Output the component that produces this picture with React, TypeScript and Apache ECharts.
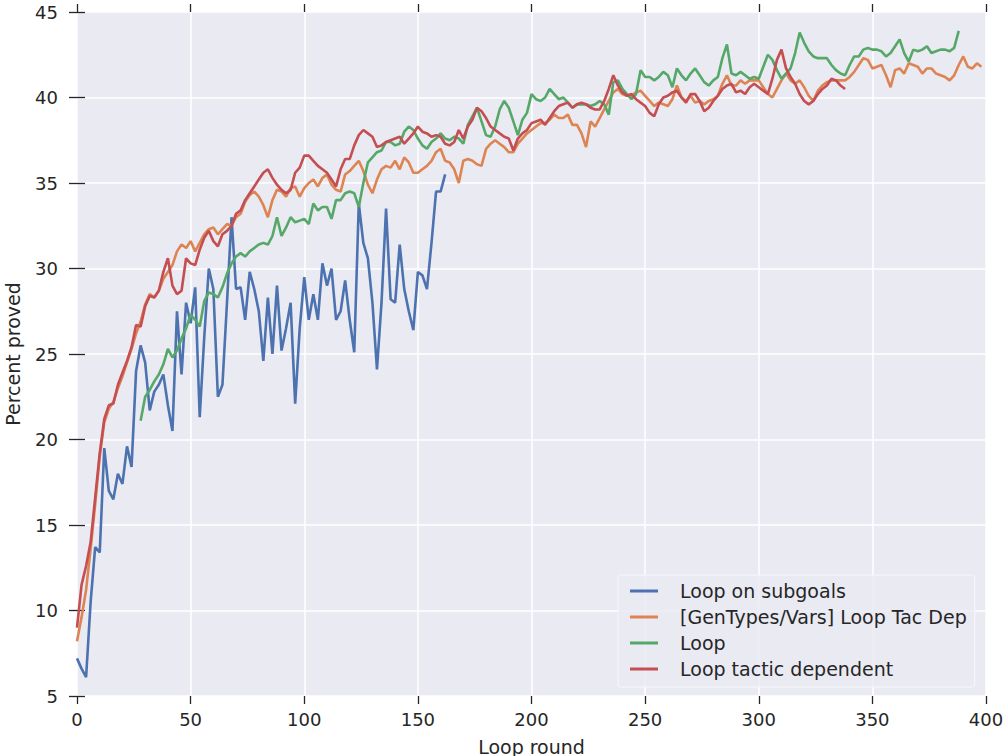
import React, { useEffect, useRef } from "react";
import * as echarts from "echarts";

const STEP = 2;
const xTicks = { min: 0, max: 400, interval: 50 };
const yTicks = { min: 5, max: 45, interval: 5 };

const seriesNames = [
  "Loop on subgoals",
  "[GenTypes/Vars] Loop Tac Dep",
  "Loop",
  "Loop tactic dependent",
];
const seriesColors = ["#4C72B0", "#DD8452", "#55A868", "#C44E52"];

const blueStart = 0;
const blueValues = [
  7.2, 6.6, 6.1, 10.5, 13.7, 13.4, 19.5, 17.0, 16.5, 18.0,
  17.4, 19.6, 18.4, 24.0, 25.5, 24.5, 21.7, 22.8, 23.2, 23.8,
  22.0, 20.5, 27.5, 23.8, 28.0, 26.8, 28.9, 21.3, 26.0, 30.0,
  28.8, 22.5, 23.2, 28.0, 33.0, 28.8, 28.9, 27.0, 29.8, 28.8,
  27.5, 24.6, 28.3, 25.0, 29.0, 25.2, 26.5, 28.0, 22.1, 26.5,
  29.5, 27.0, 28.5, 27.0, 30.3, 29.0, 30.0, 27.0, 27.5, 29.3,
  27.0, 25.1, 33.8, 31.5, 30.6, 28.0, 24.1, 28.0, 33.5, 28.2,
  28.0, 31.4, 28.8, 27.5, 26.4, 29.8, 29.6, 28.8, 31.5, 34.5,
  34.5, 35.5,
];

const orangeStart = 0;
const orangeValues = [
  8.2, 9.6, 11.2, 13.6, 16.2, 19.0, 21.0, 21.8, 22.2, 23.0,
  23.7, 24.5, 25.3, 26.2, 26.9, 27.9, 28.5, 28.3, 28.7, 29.4,
  29.8, 30.2, 31.0, 31.4, 31.2, 31.6, 31.0, 31.5, 32.0, 32.3,
  32.4, 32.0, 32.3, 32.6, 32.5, 33.0, 33.2, 33.9, 34.3, 34.5,
  34.2, 33.7, 33.0, 34.0, 34.6, 34.5, 34.2, 34.7, 34.8, 34.2,
  34.7, 35.0, 35.2, 34.8, 35.3, 35.5, 34.9, 34.6, 34.5, 35.5,
  35.7, 36.0, 36.3, 35.7, 34.9, 34.4, 35.2, 35.8, 36.0, 35.9,
  36.3, 35.8, 36.5, 36.2, 35.6, 35.6, 35.8, 36.0, 36.3, 36.8,
  37.0, 36.3, 36.2, 35.8, 35.0, 36.3, 36.4, 36.3, 36.1, 36.0,
  37.0, 37.3, 37.5, 37.3, 37.1, 36.8, 36.8, 37.3, 37.6, 37.9,
  38.1, 38.3, 38.5, 38.5, 38.7, 39.0, 38.8, 38.8, 39.0, 38.4,
  38.4, 37.9, 37.1, 38.6, 38.3, 38.8, 39.3, 39.8, 40.3, 40.5,
  40.2, 40.1, 40.1, 40.3, 40.4, 40.1, 39.8, 39.5, 39.7, 39.6,
  39.5, 39.9, 40.7, 40.0, 39.8, 40.1, 39.7, 39.8, 39.6, 39.8,
  39.9, 40.1, 40.8, 41.3, 40.7, 40.7, 41.0, 40.8, 41.0, 41.0,
  41.0, 40.6, 40.2, 40.0, 40.5, 41.0, 41.4, 41.0, 40.8, 41.0,
  40.6, 40.1, 39.8, 40.4, 40.7, 40.9, 41.0, 41.0, 41.0, 41.0,
  41.2, 41.5, 41.9, 42.3, 42.2, 41.7, 41.8, 41.9, 41.3, 40.6,
  41.6, 41.7, 41.4, 42.0, 41.9, 41.8, 41.4, 41.7, 41.7, 41.4,
  41.3, 41.2, 41.0, 41.3, 41.9, 42.4, 41.8, 41.7, 42.0, 41.8,
];

const greenStart = 28;
const greenValues = [
  21.1, 22.5, 22.9, 23.4, 23.8, 24.4, 25.3, 24.8, 25.2, 25.9,
  26.5, 27.3, 27.0, 26.6, 28.1, 28.6, 28.5, 28.3, 28.9, 29.7,
  30.3, 30.7, 30.9, 30.7, 31.0, 31.2, 31.4, 31.5, 31.4, 31.9,
  33.0, 31.9, 32.4, 33.0, 32.7, 32.8, 32.9, 32.6, 33.8, 33.4,
  33.6, 33.6, 32.9, 34.0, 34.0, 34.4, 34.5, 34.4, 33.6, 35.0,
  36.2, 36.5, 36.8, 36.9, 37.4, 37.4, 37.2, 37.3, 38.0, 38.3,
  38.1, 37.6, 37.2, 37.0, 37.4, 37.6, 37.9, 37.6, 37.5, 37.7,
  37.6, 37.3, 38.4, 38.9, 39.4, 38.6, 37.8, 37.7, 38.3, 39.3,
  39.8, 39.4, 38.6, 37.8, 38.7, 39.1, 40.2, 39.9, 39.8, 40.0,
  40.5, 40.2, 39.9, 40.0, 39.7, 39.4, 39.6, 39.6, 39.6, 39.5,
  39.6, 39.8, 39.6, 39.0, 40.9, 41.0, 40.5, 40.2, 39.9, 40.2,
  41.6, 41.2, 41.2, 41.0, 41.2, 41.5, 41.3, 40.6, 41.7, 41.3,
  41.0, 41.4, 41.7, 41.3, 40.9, 40.7, 41.0, 41.2, 42.3, 43.1,
  41.4, 41.3, 41.5, 41.3, 41.1, 41.2, 41.1, 41.8, 42.5, 42.2,
  41.6, 41.1, 41.4, 41.7, 42.6, 43.8, 43.2, 42.7, 42.4, 42.3,
  42.3, 42.3, 41.9, 41.6, 41.4, 41.3, 41.9, 42.4, 42.4, 42.8,
  42.9, 42.8, 42.8, 42.7, 42.4, 42.6, 43.0, 43.4, 42.6, 42.1,
  42.8, 42.7, 42.8, 43.0, 42.6, 42.7, 42.8, 42.8, 42.7, 42.9,
  43.9,
];

const redStart = 0;
const redValues = [
  9.0, 11.5, 12.6, 14.0, 16.6, 19.2, 21.2, 22.0, 22.1, 23.2,
  23.9, 24.6, 25.4, 26.7, 26.6, 27.8, 28.4, 28.3, 28.7, 29.8,
  30.6, 29.0, 28.5, 28.7, 30.6, 30.3, 30.2, 31.1, 31.8, 32.2,
  31.6, 31.3, 32.0, 32.2, 32.5, 33.2, 33.4, 34.0, 34.4, 34.8,
  35.2, 35.6, 35.8, 35.3, 34.9, 34.6, 34.4, 34.6, 35.6, 35.9,
  36.6, 36.6, 36.3, 36.0, 35.8, 35.6, 35.2, 34.8, 35.8, 36.4,
  36.4, 37.2, 37.8, 38.1, 37.9, 37.7, 37.1, 37.2, 37.4, 37.5,
  37.6, 37.7, 37.3, 37.6, 37.9, 38.3, 38.0, 37.9, 37.7, 37.8,
  37.7, 37.3, 37.2, 37.4, 38.1, 37.6, 38.3, 38.7, 39.4, 39.2,
  38.8, 38.3, 38.1, 37.9, 37.7, 37.6, 36.9, 37.6, 37.9, 38.1,
  38.5, 38.6, 38.7, 38.4, 38.8, 39.2, 39.5, 39.6, 39.7, 39.4,
  39.6, 39.7, 39.6, 39.4, 39.3, 39.3, 39.8, 40.5, 41.3, 40.7,
  40.3, 40.1, 40.2, 39.9, 39.7, 39.5, 39.1, 38.9, 39.6, 40.0,
  40.1, 40.3, 40.4, 40.0, 39.7, 40.2, 40.2, 39.8, 39.2, 39.4,
  39.8, 40.1, 40.5, 40.7, 40.8, 40.3, 40.4, 40.2, 40.6, 40.8,
  40.6, 40.4, 40.2, 41.1, 42.2, 42.8, 41.7, 41.2, 40.8, 40.2,
  39.8, 39.6, 39.8, 40.2, 40.5, 40.7, 41.1, 41.0, 40.7, 40.5,
];

const FONT = "DejaVu Sans";
const TEXT = "#262626";

function toPoints(start: number, values: number[]) {
  return values.map((v, i) => [start + i * STEP, v]);
}

export default function App() {
  const ref = useRef<HTMLDivElement>(null);
  useEffect(() => {
    if (!ref.current) return;
    const chart = echarts.init(ref.current, undefined, { renderer: "svg" });
    const tick = { show: true, length: 8, lineStyle: { color: TEXT, width: 1.3 } };
    const data = [
      toPoints(blueStart, blueValues),
      toPoints(orangeStart, orangeValues),
      toPoints(greenStart, greenValues),
      toPoints(redStart, redValues),
    ];
    chart.setOption({
      animation: false,
      backgroundColor: "#ffffff",
      grid: {
        left: 77, top: 12, width: 909, height: 684,
        show: true, backgroundColor: "#EAEAF2", borderWidth: 0,
        containLabel: false, outerBoundsMode: "none",
      },
      legend: {
        left: 618, top: 575, orient: "vertical",
        padding: [6, 8, 8, 12],
        itemGap: 6, itemWidth: 28, itemHeight: 3,
        backgroundColor: "rgba(234,234,242,0.8)",
        borderColor: "#f7f7fa", borderWidth: 1, borderRadius: 3,
        icon: "path://M0 0 H28 V3 H0 Z",
        textStyle: { fontFamily: FONT, fontSize: 19, color: TEXT, lineHeight: 20, padding: [0, 0, 0, 17] },
        data: seriesNames,
      },
      xAxis: [
        {
          type: "value", ...xTicks,
          axisLine: { show: false }, axisTick: tick,
          axisLabel: { color: TEXT, fontFamily: FONT, fontSize: 18, margin: 14 },
          splitLine: { show: true, lineStyle: { color: "#ffffff", width: 1.5 } },
          name: "Loop round", nameLocation: "middle", nameGap: 41,
          nameTextStyle: { color: TEXT, fontFamily: FONT, fontSize: 19 },
        },
        {
          type: "value", position: "top", ...xTicks,
          axisLine: { show: false }, axisTick: tick,
          axisLabel: { show: false }, splitLine: { show: false },
        },
      ],
      yAxis: [
        {
          type: "value", ...yTicks,
          axisLine: { show: false }, axisTick: tick,
          axisLabel: { color: TEXT, fontFamily: FONT, fontSize: 18, margin: 19 },
          splitLine: { show: true, lineStyle: { color: "#ffffff", width: 1.5 } },
          name: "Percent proved", nameLocation: "middle", nameGap: 55,
          nameTextStyle: { color: TEXT, fontFamily: FONT, fontSize: 19 },
        },
        {
          type: "value", position: "right", ...yTicks,
          axisLine: { show: false }, axisTick: tick,
          axisLabel: { show: false }, splitLine: { show: false },
        },
      ],
      series: seriesNames.map((name, i) => ({
        name, type: "line", data: data[i],
        xAxisIndex: 0, yAxisIndex: 0,
        showSymbol: false, symbol: "none",
        color: seriesColors[i],
        lineStyle: { color: seriesColors[i], width: 2.6 },
        z: 2 + i,
      })),
    });
    return () => chart.dispose();
  }, []);
  return (
    <div
      ref={ref}
      style={{ position: "fixed", left: 0, top: 0, width: 1003, height: 756 }}
    />
  );
}
